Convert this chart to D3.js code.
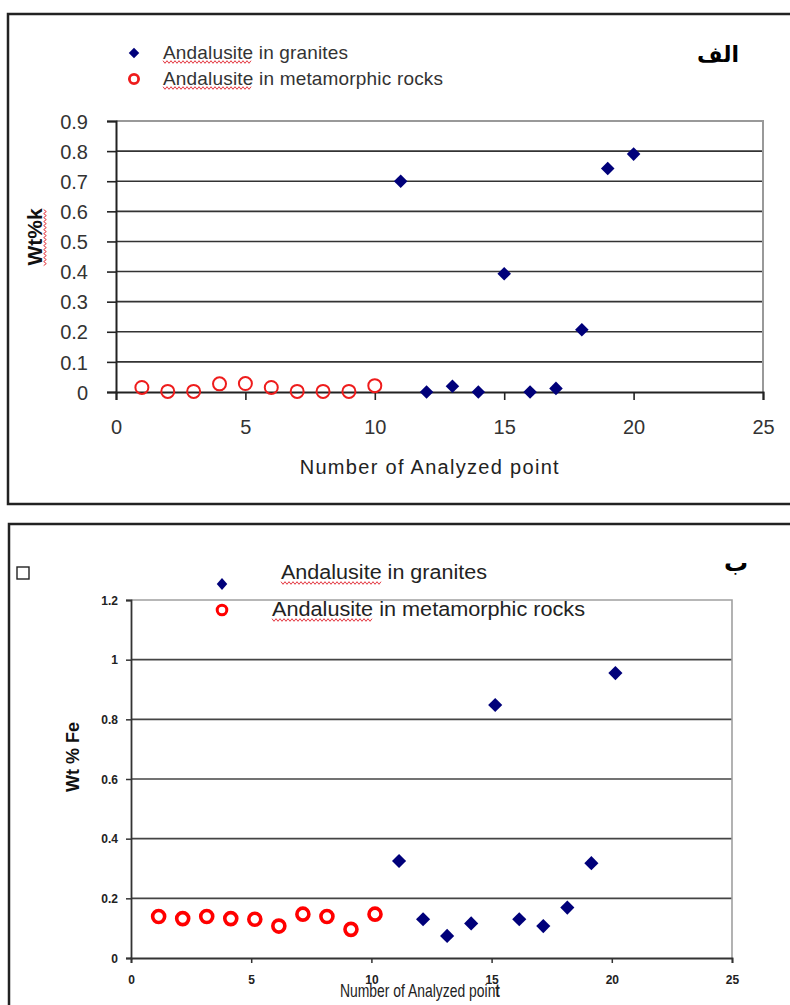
<!DOCTYPE html>
<html>
<head>
<meta charset="utf-8">
<script src="https://cdn.jsdelivr.net/npm/d3@7"></script>
<style>
  body { margin: 0; background: #fff; }
  svg { display: block; font-family: "Liberation Sans", Arial, sans-serif; }
</style>
</head>
<body>
<svg id="chart" width="790" height="1005"></svg>
<script>
// Panel A (الف) : Wt%k
var kMetaX = [1, 2, 3, 4, 5, 6, 7, 8, 9, 10];
var kMeta = [0.015, 0.002, 0.002, 0.027, 0.028, 0.015, 0.002, 0.002, 0.002, 0.021];
var kGranX = [11, 12, 13, 14, 15, 16, 17, 18, 19, 20];
var kGran = [0.70, 0.0, 0.019, 0.0, 0.393, 0.0, 0.012, 0.207, 0.742, 0.79];
var kTicksY = ["0", "0.1", "0.2", "0.3", "0.4", "0.5", "0.6", "0.7", "0.8", "0.9"];
var kTicksX = [0, 5, 10, 15, 20, 25];

// Panel B (ب) : Wt % Fe
var feMetaX = [1.15, 2.15, 3.15, 4.15, 5.15, 6.15, 7.15, 8.15, 9.15, 10.15];
var feMeta = [0.139, 0.132, 0.139, 0.132, 0.13, 0.107, 0.147, 0.139, 0.096, 0.147];
var feGranX = [11.15, 12.15, 13.15, 14.15, 15.15, 16.15, 17.15, 18.15, 19.15, 20.15];
var feGran = [0.325, 0.13, 0.074, 0.116, 0.848, 0.13, 0.107, 0.169, 0.318, 0.955];
var feTicksY = ["0", "0.2", "0.4", "0.6", "0.8", "1", "1.2"];
var feTicksX = [0, 5, 10, 15, 20, 25];

var svg = d3.select("#chart");

// red spell-check squiggle
function wavy(g, x0, x1, y) {
  var pts = [];
  for (var x = x0, i = 0; x <= x1; x += 2, i++) {
    pts.push([x, y + (i % 2 ? 1.3 : -1.3)]);
  }
  g.append("path")
    .attr("d", d3.line()(pts))
    .attr("fill", "none")
    .attr("stroke", "#e0202a")
    .attr("stroke-width", 0.9);
}

function textWidth(str, size, weight) {
  var t = svg.append("text").style("font-size", size + "px").style("font-weight", weight || "normal").text(str);
  var w = t.node().getComputedTextLength();
  t.remove();
  return w;
}

var diamond = function (area) { return d3.symbol().type(d3.symbolSquare).size(area)(); };

// ---------------- frames ----------------
svg.append("rect").attr("x", 8).attr("y", 14).attr("width", 800).attr("height", 490)
  .attr("fill", "none").attr("stroke", "#222").attr("stroke-width", 2.5);
svg.append("rect").attr("x", 9).attr("y", 524).attr("width", 800).attr("height", 520)
  .attr("fill", "none").attr("stroke", "#222").attr("stroke-width", 2.5);

// ---------------- panel A ----------------
var a = svg.append("g");
var xA = d3.scaleLinear().domain([0, 25]).range([116, 763]);
var yA = d3.scaleLinear().domain([0, 0.9]).range([392, 121]);

// gridlines
a.selectAll("line.grid").data(kTicksY.slice(1, 9)).enter().append("line")
  .attr("x1", xA(0)).attr("x2", xA(25))
  .attr("y1", function (d) { return yA(+d); }).attr("y2", function (d) { return yA(+d); })
  .attr("stroke", "#333").attr("stroke-width", 1.6);
// plot border top/right
a.append("path")
  .attr("d", "M" + xA(0) + "," + yA(0.9) + "H" + xA(25) + "V" + yA(0))
  .attr("fill", "none").attr("stroke", "#999").attr("stroke-width", 2);

var axAy = a.append("g").attr("transform", "translate(" + xA(0) + ",0)")
  .call(d3.axisLeft(yA).tickValues(kTicksY.map(Number)).tickSize(9).tickPadding(19)
    .tickFormat(function (d, i) { return kTicksY[i]; }));
var axAx = a.append("g").attr("transform", "translate(0," + yA(0) + ")")
  .call(d3.axisBottom(xA).tickValues(kTicksX).tickSize(8).tickPadding(20));
[axAy, axAx].forEach(function (ax) {
  ax.select(".domain").attr("stroke", "#222").attr("stroke-width", 2);
  ax.selectAll(".tick line").attr("stroke", "#222").attr("stroke-width", 1.6);
  ax.selectAll("text").style("font-size", "20px").attr("fill", "#333")
    .style("font-family", "'Liberation Sans', Arial, sans-serif");
});
axAy.selectAll("text").attr("dy", "0.36em");
axAx.selectAll("text").attr("dy", "0.72em");

// points
a.selectAll("circle.meta").data(kMeta).enter().append("circle")
  .attr("cx", function (d, i) { return xA(kMetaX[i]); })
  .attr("cy", function (d) { return yA(d); })
  .attr("r", 6.5).attr("fill", "none").attr("stroke", "#ee1c1c").attr("stroke-width", 2);
a.selectAll("path.gran").data(kGran).enter().append("path")
  .attr("d", diamond(92))
  .attr("transform", function (d, i) { return "translate(" + xA(kGranX[i]) + "," + yA(d) + ") rotate(45)"; })
  .attr("fill", "#00007a");

// axis titles
a.append("text").attr("x", xA(12.1)).attr("y", 474).attr("text-anchor", "middle")
  .style("font-size", "20px").attr("fill", "#222").attr("textLength", 259)
  .text("Number of Analyzed point");
a.append("text").attr("transform", "translate(42,237) rotate(-90)").attr("text-anchor", "middle")
  .style("font-size", "21px").style("font-weight", "bold").attr("fill", "#111")
  .text("Wt%k");
(function () {
  var w = textWidth("Wt%k", 21, "bold");
  var g = a.append("g").attr("transform", "translate(45,237) rotate(-90)");
  wavy(g, -w / 2, w / 2, 0);
})();

// legend
a.append("path").attr("d", diamond(55)).attr("transform", "translate(134,53) rotate(45)").attr("fill", "#00007a");
a.append("circle").attr("cx", 134).attr("cy", 79).attr("r", 4.6).attr("fill", "none")
  .attr("stroke", "#ee1c1c").attr("stroke-width", 2.8);
a.append("text").attr("x", 163).attr("y", 59).style("font-size", "19px").attr("fill", "#333")
  .attr("textLength", 185).text("Andalusite in granites");
a.append("text").attr("x", 163).attr("y", 85).style("font-size", "19px").attr("fill", "#333")
  .attr("textLength", 280).text("Andalusite in metamorphic rocks");
var wA = textWidth("Andalusite", 19);
wavy(a, 163, 163 + wA, 62);
wavy(a, 163, 163 + wA, 88);

a.append("text").attr("x", 739).attr("y", 62).attr("text-anchor", "end")
  .style("font-size", "22px").style("font-weight", "bold")
  .style("font-family", "'DejaVu Sans', 'Noto Sans', sans-serif")
  .text("الف");

// ---------------- panel B ----------------
var b = svg.append("g");
var xB = d3.scaleLinear().domain([0, 25]).range([131, 732]);
var yB = d3.scaleLinear().domain([0, 1.2]).range([958, 600]);

b.selectAll("line.grid").data(feTicksY.slice(1, 6)).enter().append("line")
  .attr("x1", xB(0)).attr("x2", xB(25))
  .attr("y1", function (d) { return yB(+d); }).attr("y2", function (d) { return yB(+d); })
  .attr("stroke", "#444").attr("stroke-width", 1.6);
b.append("path")
  .attr("d", "M" + xB(0) + "," + yB(1.2) + "H" + xB(25) + "V" + yB(0))
  .attr("fill", "none").attr("stroke", "#a0a0a0").attr("stroke-width", 1.6);

var axBy = b.append("g").attr("transform", "translate(" + xB(0) + ",0)")
  .call(d3.axisLeft(yB).tickValues(feTicksY.map(Number)).tickSize(5).tickPadding(8)
    .tickFormat(function (d, i) { return feTicksY[i]; }));
var axBx = b.append("g").attr("transform", "translate(0," + yB(0) + ")")
  .call(d3.axisBottom(xB).tickValues(feTicksX).tickSize(5).tickPadding(12));
[axBy, axBx].forEach(function (ax) {
  ax.select(".domain").attr("stroke", "#333").attr("stroke-width", 1.8);
  ax.selectAll(".tick line").attr("stroke", "#333").attr("stroke-width", 1.5);
  ax.selectAll("text").style("font-size", "12px").style("font-weight", "bold").attr("fill", "#222")
    .style("font-family", "'Liberation Sans', Arial, sans-serif");
});
axBy.selectAll("text").attr("dy", "0.36em");

b.selectAll("circle.meta").data(feMeta).enter().append("circle")
  .attr("cx", function (d, i) { return xB(feMetaX[i]); })
  .attr("cy", function (d) { return yB(d); })
  .attr("r", 6).attr("fill", "none").attr("stroke", "#ff0000").attr("stroke-width", 3.6);
b.selectAll("path.gran").data(feGran).enter().append("path")
  .attr("d", diamond(100))
  .attr("transform", function (d, i) { return "translate(" + xB(feGranX[i]) + "," + yB(d) + ") rotate(45)"; })
  .attr("fill", "#00007a");

b.append("text").attr("transform", "translate(79,757) rotate(-90)").attr("text-anchor", "middle")
  .style("font-size", "18px").style("font-weight", "bold").attr("fill", "#111")
  .text("Wt % Fe");
// the original title sits over the tick labels
var xt = b.append("text").attr("x", 340).attr("y", 997)
  .style("font-size", "19px").attr("fill", "#222")
  .attr("textLength", 160).attr("lengthAdjust", "spacingAndGlyphs");
xt.append("tspan").text("Number of Analyzed  poin");
xt.append("tspan").style("font-weight", "bold").text("t");

// legend
b.append("path").attr("d", diamond(55)).attr("transform", "translate(222,584) scale(1,1.15) rotate(45)").attr("fill", "#00007a");
b.append("circle").attr("cx", 222).attr("cy", 610).attr("r", 4.8).attr("fill", "none")
  .attr("stroke", "#ff0000").attr("stroke-width", 3);
b.append("text").attr("x", 281).attr("y", 579).style("font-size", "20px").attr("fill", "#222")
  .attr("textLength", 206).attr("lengthAdjust", "spacingAndGlyphs").text("Andalusite in granites");
b.append("text").attr("x", 272).attr("y", 616).style("font-size", "20px").attr("fill", "#222")
  .attr("textLength", 313).attr("lengthAdjust", "spacingAndGlyphs").text("Andalusite in metamorphic rocks");
var wB = 206 * textWidth("Andalusite", 20) / textWidth("Andalusite in granites", 20);
var wB2 = 313 * textWidth("Andalusite", 20) / textWidth("Andalusite in metamorphic rocks", 20);
wavy(b, 281, 281 + wB, 583);
wavy(b, 272, 272 + wB2, 620);

b.append("rect").attr("x", 17).attr("y", 567).attr("width", 12).attr("height", 12)
  .attr("fill", "none").attr("stroke", "#222").attr("stroke-width", 1.4);
b.append("text").attr("x", 748).attr("y", 571).attr("text-anchor", "end")
  .style("font-size", "24px").style("font-weight", "bold")
  .style("font-family", "'DejaVu Sans', 'Noto Sans', sans-serif")
  .text("ب");
</script>
</body>
</html>
